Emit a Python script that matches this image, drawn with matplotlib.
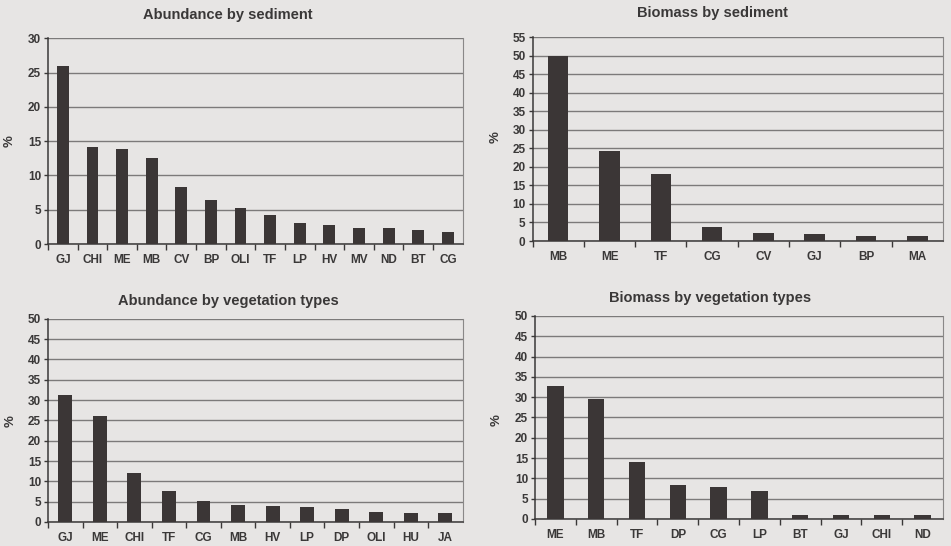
import numpy as np
import matplotlib.pyplot as plt

plt.rcParams['font.family'] = ['Liberation Sans', 'DejaVu Sans']

# percentages per taxon
sed_abund_cats = ['GJ', 'CHI', 'ME', 'MB', 'CV', 'BP', 'OLI', 'TF', 'LP', 'HV', 'MV', 'ND', 'BT', 'CG']
sed_abund_vals = [26.0, 14.2, 13.8, 12.6, 8.3, 6.4, 5.2, 4.3, 3.1, 2.8, 2.4, 2.4, 2.1, 1.8]

sed_bio_cats = ['MB', 'ME', 'TF', 'CG', 'CV', 'GJ', 'BP', 'MA']
sed_bio_vals = [50.0, 24.3, 18.1, 3.7, 2.2, 1.9, 1.4, 1.4]

veg_abund_cats = ['GJ', 'ME', 'CHI', 'TF', 'CG', 'MB', 'HV', 'LP', 'DP', 'OLI', 'HU', 'JA']
veg_abund_vals = [31.2, 26.2, 12.1, 7.6, 5.1, 4.2, 3.9, 3.8, 3.1, 2.5, 2.3, 2.1]

veg_bio_cats = ['ME', 'MB', 'TF', 'DP', 'CG', 'LP', 'BT', 'GJ', 'CHI', 'ND']
veg_bio_vals = [32.8, 29.5, 14.1, 8.4, 7.9, 6.8, 1.1, 1.0, 1.0, 1.0]

bg = '#e7e5e4'
bar_col = '#3b3636'
ink = '#3a3838'

fig = plt.figure(figsize=(9.51, 5.46), dpi=100, facecolor=bg)


def panel(rect, cats, vals, ymax, title, title_xy, ylab_xy):
    ax = fig.add_axes(rect)
    ax.set_facecolor(bg)
    n = len(cats)
    x = np.arange(n)
    ax.bar(x, vals, width=0.4, color=bar_col, zorder=3)
    ax.set_xlim(-0.5, n - 0.5)
    ax.set_ylim(0, ymax)
    ax.set_yticks(np.arange(0, ymax + 1, 5))
    ax.yaxis.grid(True, color='#7c7a7a', lw=1.0, zorder=0)
    ax.set_xticks(x)
    ax.set_xticklabels(cats)
    ax.tick_params(axis='x', length=0, pad=7, labelsize=8.5, colors=ink)
    ax.set_xticks(np.arange(n) - 0.5, minor=True)
    ax.tick_params(axis='x', which='minor', length=4, width=1, color=ink, direction='out')
    ax.tick_params(axis='y', length=3, width=1, pad=2, labelsize=8.5, colors=ink)
    for s in ['left', 'bottom']:
        ax.spines[s].set_color(ink)
        ax.spines[s].set_linewidth(1.1)
    ax.spines['top'].set_visible(False)
    ax.spines['right'].set_color('#8a8888')
    for lab in ax.get_xticklabels() + ax.get_yticklabels():
        lab.set_fontweight('bold')
    fig.text(title_xy[0] / 951, 1 - title_xy[1] / 546, title, ha='center', va='center',
             fontsize=10.5, fontweight='bold', color=ink)
    fig.text(ylab_xy[0] / 951, 1 - ylab_xy[1] / 546, '%', ha='center', va='center',
             rotation=90, fontsize=9.5, fontweight='bold', color=ink)
    return ax


panel([0.0505, 0.553, 0.436, 0.377], sed_abund_cats, sed_abund_vals, 30,
      'Abundance by sediment', (228, 15), (10, 141))
panel([0.560, 0.5586, 0.4316, 0.3736], sed_bio_cats, sed_bio_vals, 55,
      'Biomass by sediment', (712, 13), (496, 137))
panel([0.0505, 0.044, 0.436, 0.372], veg_abund_cats, veg_abund_vals, 50,
      'Abundance by vegetation types', (228, 301), (11, 421))
panel([0.5626, 0.0495, 0.429, 0.3718], veg_bio_cats, veg_bio_vals, 50,
      'Biomass by vegetation types', (710, 298), (497, 420))

fig.savefig('out.png', dpi=100, facecolor=bg)
